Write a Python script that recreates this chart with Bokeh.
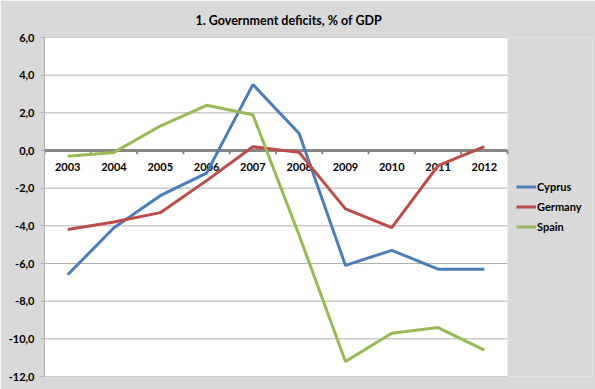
from bokeh.plotting import figure
from bokeh.models import Range1d, FixedTicker, Span, Legend, LegendItem
from bokeh.core.properties import value
from bokeh.embed import file_html
from bokeh.resources import INLINE

title_text = "1. Government deficits, % of GDP"
years = ["2003", "2004", "2005", "2006", "2007", "2008", "2009", "2010", "2011", "2012"]
cyprus = [-6.6, -4.1, -2.4, -1.2, 3.5, 0.9, -6.1, -5.3, -6.3, -6.3]
germany = [-4.2, -3.8, -3.3, -1.6, 0.2, -0.1, -3.1, -4.1, -0.8, 0.2]
spain = [-0.3, -0.1, 1.3, 2.4, 1.9, -4.5, -11.2, -9.7, -9.4, -10.6]
y_ticks = [-12, -10, -8, -6, -4, -2, 0, 2, 4, 6]

FONT = "Lato"
BG = "#d9d9d9"
GRID = "#b0b0b0"
AXIS = "#868686"

n = len(years)
xc = [i + 0.5 for i in range(n)]          # category centres
xb = [float(i) for i in range(n + 1)]     # category boundaries

# layout (pixels)
W, H = 595, 389
LEFT, TOP, BOTTOM, RIGHT_EDGE = 44, 37, 13, 3
PLOT_W = 463                               # width of white plot area
frame_w = W - LEFT - RIGHT_EDGE
x_end = n * frame_w / PLOT_W

p = figure(width=W, height=H, output_backend="svg", toolbar_location=None,
           x_range=Range1d(0, x_end), y_range=Range1d(y_ticks[0], y_ticks[-1]),
           min_border_left=LEFT, min_border_right=RIGHT_EDGE, min_border_top=TOP,
           min_border_bottom=BOTTOM)
p.border_fill_color = BG
p.background_fill_color = BG
p.outline_line_color = None

p.title.text = title_text
p.title.align = "left"
p.title.offset = 151
p.title.standoff = 19
p.title.text_font = FONT
p.title.text_font_style = "bold"
p.title.text_font_size = "12.5px"
p.title.text_color = "black"

p.yaxis.ticker = FixedTicker(ticks=y_ticks)
p.yaxis.major_label_overrides = {t: f"{t:.1f}".replace(".", ",") for t in y_ticks}
p.yaxis.major_label_text_font = FONT
p.yaxis.major_label_text_font_style = "bold"
p.yaxis.major_label_text_font_size = "11px"
p.yaxis.major_label_text_color = "black"
p.yaxis.axis_line_color = GRID
p.yaxis.axis_line_width = 1
p.yaxis.major_tick_line_color = GRID
p.yaxis.major_tick_in = 0
p.yaxis.major_tick_out = 4
p.yaxis.minor_tick_line_color = None
p.yaxis.major_label_standoff = 6

p.xaxis.visible = False
p.xgrid.grid_line_color = None
p.ygrid.grid_line_color = None

# white plot area and horizontal gridlines
p.quad(left=[0], right=[n], bottom=[y_ticks[0]], top=[y_ticks[-1]],
       fill_color="white", line_color=None)
p.segment(x0=[0] * len(y_ticks), x1=[n] * len(y_ticks), y0=y_ticks, y1=y_ticks,
          line_color=GRID, line_width=1)

# zero line acting as category axis
p.segment(x0=[0], x1=[n], y0=[0], y1=[0], line_color=AXIS, line_width=3)
p.segment(x0=xb, y0=[0] * len(xb), x1=xb, y1=[-0.2] * len(xb),
          line_color=AXIS, line_width=2)
p.text(x=xc, y=[0] * n, text=years, text_font=value(FONT),
       text_font_style="bold", text_font_size="11px", text_color="black",
       text_align="center", text_baseline="top", y_offset=12)

colors = {"Cyprus": "#4a7ebb", "Germany": "#be4b48", "Spain": "#98b954"}
series = {"Cyprus": cyprus, "Germany": germany, "Spain": spain}
items = []
for name, vals in series.items():
    r = p.line(x=xc, y=vals, line_color=colors[name], line_width=3)
    items.append(LegendItem(label=name, renderers=[r]))

legend = Legend(items=items, location=(472, 141), border_line_color=None,
                background_fill_alpha=0, label_text_font=FONT,
                label_text_font_style="bold", label_text_font_size="11px",
                label_text_color="black", glyph_width=20, label_standoff=1,
                spacing=3, padding=0, margin=0, label_height=17, glyph_height=17)
p.add_layout(legend)

open("out.html", "w").write(file_html(p, INLINE))
